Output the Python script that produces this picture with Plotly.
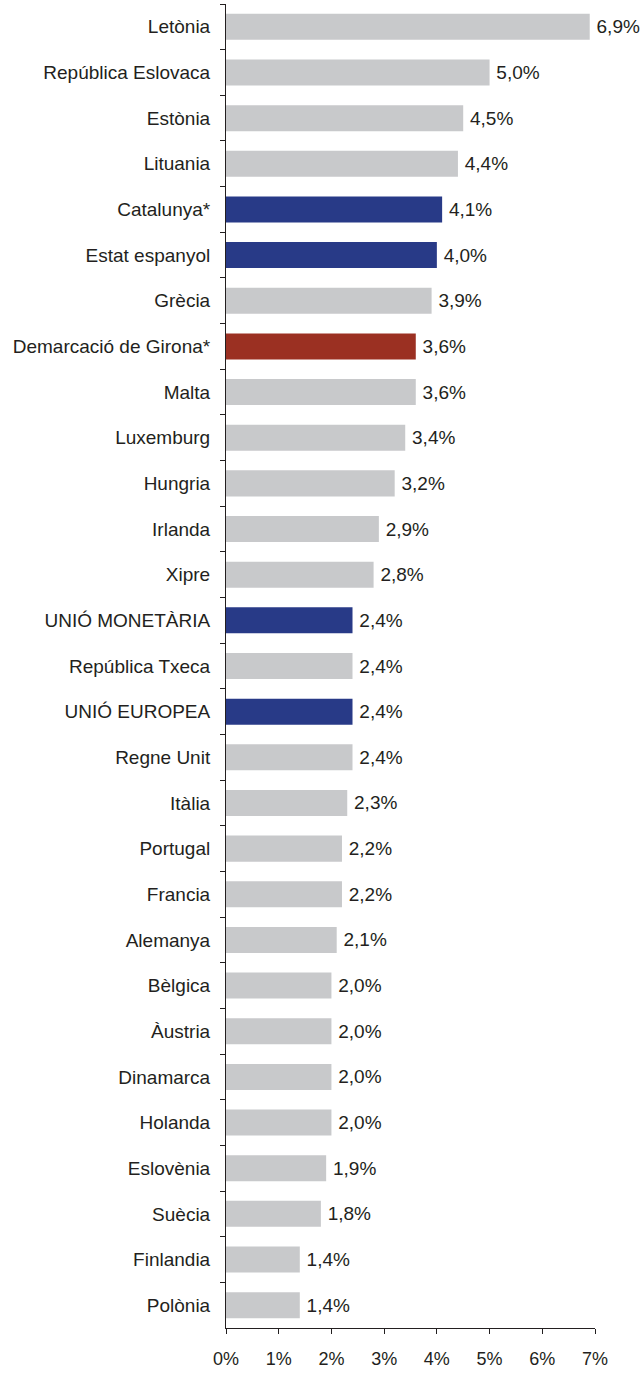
import plotly.graph_objects as go

categories = ["Letònia", "República Eslovaca", "Estònia", "Lituania", "Catalunya*",
              "Estat espanyol", "Grècia", "Demarcació de Girona*", "Malta", "Luxemburg",
              "Hungria", "Irlanda", "Xipre", "UNIÓ MONETÀRIA", "República Txeca",
              "UNIÓ EUROPEA", "Regne Unit", "Itàlia", "Portugal", "Francia",
              "Alemanya", "Bèlgica", "Àustria", "Dinamarca", "Holanda",
              "Eslovènia", "Suècia", "Finlandia", "Polònia"]
values = [6.9, 5.0, 4.5, 4.4, 4.1, 4.0, 3.9, 3.6, 3.6, 3.4,
          3.2, 2.9, 2.8, 2.4, 2.4, 2.4, 2.4, 2.3, 2.2, 2.2,
          2.1, 2.0, 2.0, 2.0, 2.0, 1.9, 1.8, 1.4, 1.4]
groups = ["eu", "eu", "eu", "eu", "agg", "agg", "eu", "girona", "eu", "eu",
          "eu", "eu", "eu", "agg", "eu", "agg", "eu", "eu", "eu", "eu",
          "eu", "eu", "eu", "eu", "eu", "eu", "eu", "eu", "eu"]
x_ticks = [0, 1, 2, 3, 4, 5, 6, 7]

palette = {"eu": "#C8C9CB", "agg": "#283A87", "girona": "#9B3022"}
colors = [palette[g] for g in groups]
text_color = "#231F20"
font_family = "Liberation Sans, Arial, sans-serif"

fig = go.Figure(go.Bar(
    y=categories, x=values, orientation="h",
    marker=dict(color=colors, line=dict(width=0)),
    text=["\u2009" + f"{v:.1f}%".replace(".", ",") for v in values],
    textposition="outside", cliponaxis=False,
    textfont=dict(size=19, color=text_color, family=font_family),
    hoverinfo="skip",
))

fig.update_layout(
    width=642, height=1373,
    margin=dict(l=226, r=47, t=4, b=40),
    plot_bgcolor="white", paper_bgcolor="white",
    bargap=0.43,
    showlegend=False,
    font=dict(family=font_family, size=19, color=text_color),
)
fig.update_yaxes(
    categoryorder="array", categoryarray=categories, autorange="reversed",
    showline=True, linecolor="#231F20", linewidth=1,
    ticks="outside", tickson="boundaries", ticklen=5, tickcolor="#231F20",
    showgrid=False, ticklabelstandoff=11,
    tickfont=dict(size=19, color=text_color),
)
fig.update_xaxes(
    range=[0, 7], tickvals=x_ticks, ticktext=[f"{t}%" for t in x_ticks],
    showline=True, linecolor="#231F20", linewidth=1,
    ticks="outside", ticklen=5, tickcolor="#231F20",
    showgrid=False, zeroline=False, ticklabelstandoff=9,
    tickfont=dict(size=18, color=text_color),
)

fig.write_html("out.html", config={"displayModeBar": False},
               post_script="document.body.style.margin='0px';document.body.style.overflow='hidden';")
